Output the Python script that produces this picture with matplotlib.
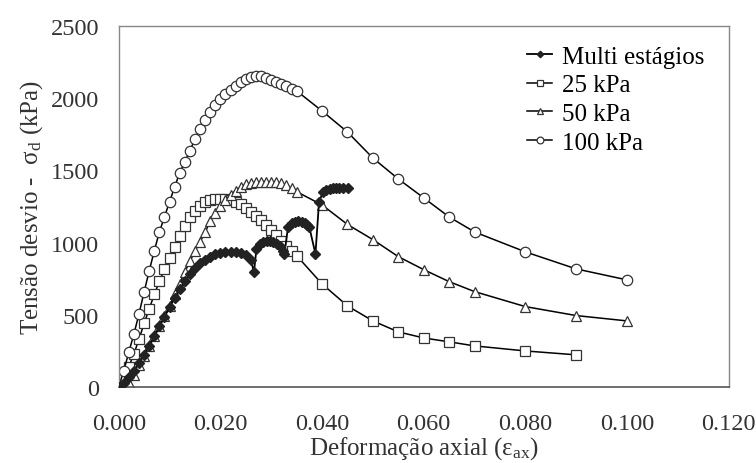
import matplotlib
matplotlib.use("Agg")
import matplotlib.pyplot as plt

plt.rcParams['font.family'] = ['Liberation Serif', 'DejaVu Serif']
plt.rcParams['mathtext.fontset'] = 'custom'
plt.rcParams['mathtext.rm'] = 'Liberation Serif'
plt.rcParams['mathtext.it'] = 'Liberation Serif'

# multi stage test (filled diamonds)
x_multi = [0.000, 0.001, 0.002, 0.003, 0.004, 0.005, 0.006, 0.007, 0.008, 0.009,
           0.010, 0.011, 0.012, 0.013, 0.014, 0.015, 0.016, 0.017, 0.018, 0.019,
           0.020, 0.021, 0.022, 0.023, 0.024, 0.025, 0.026, 0.0266,
           0.0271, 0.0277, 0.0284, 0.0291, 0.0298, 0.0304, 0.0311, 0.0317, 0.0323, 0.0326,
           0.0333, 0.0340, 0.0347, 0.0353, 0.0360, 0.0366, 0.0371, 0.0375, 0.0387,
           0.0394, 0.0402, 0.0408, 0.0415, 0.0422, 0.0428, 0.0434, 0.0441, 0.0451]
y_multi = [0, 25, 70, 108, 165, 222, 285, 350, 420, 485,
           550, 615, 675, 730, 780, 822, 856, 882, 902, 917,
           927, 933, 937, 935, 927, 915, 880, 794,
           956, 990, 1005, 1013, 1010, 1002, 990, 974, 944, 921,
           1106, 1136, 1145, 1147, 1143, 1136, 1122, 1106, 921,
           1279, 1353, 1364, 1371, 1375, 1377, 1378, 1378, 1376]

# 25 kPa (squares)
x_25 = [0.000, 0.001, 0.002, 0.003, 0.004, 0.005, 0.006, 0.007, 0.008, 0.009,
        0.010, 0.011, 0.012, 0.013, 0.014, 0.015, 0.016, 0.017, 0.018, 0.019,
        0.020, 0.021, 0.022, 0.023, 0.024, 0.025, 0.026, 0.027, 0.028, 0.029,
        0.030, 0.031, 0.032, 0.033, 0.034, 0.035,
        0.040, 0.045, 0.050, 0.055, 0.060, 0.065, 0.070, 0.080, 0.090]
y_25 = [0, 60, 140, 230, 330, 440, 540, 640, 730, 815,
        895, 970, 1045, 1115, 1175, 1220, 1255, 1278, 1293, 1300,
        1302, 1300, 1295, 1283, 1267, 1240, 1214, 1186, 1157, 1122,
        1087, 1053, 1013, 974, 944, 909,
        713, 561, 457, 381, 339, 312, 284, 249, 222]

# 50 kPa (triangles)
x_50 = [0.001, 0.002, 0.003, 0.004, 0.005, 0.006, 0.007, 0.008, 0.009,
        0.010, 0.011, 0.012, 0.013, 0.014, 0.015, 0.016, 0.017, 0.018, 0.019,
        0.020, 0.021, 0.022, 0.023, 0.024, 0.025, 0.026, 0.027, 0.028, 0.029,
        0.030, 0.031, 0.032, 0.033, 0.034, 0.035,
        0.040, 0.045, 0.050, 0.055, 0.060, 0.065, 0.070, 0.080, 0.090, 0.100]
y_50 = [0, 25, 85, 150, 215, 280, 350, 420, 490,
        560, 640, 715, 795, 870, 940, 1005, 1070, 1150, 1205,
        1255, 1295, 1330, 1360, 1385, 1402, 1412, 1418, 1422, 1422,
        1420, 1416, 1410, 1397, 1375, 1352,
        1260, 1125, 1020, 902, 812, 729, 660, 556, 494, 457]

# 100 kPa (circles)
x_100 = [0.000, 0.001, 0.002, 0.003, 0.004, 0.005, 0.006, 0.007, 0.008, 0.009,
         0.010, 0.011, 0.012, 0.013, 0.014, 0.015, 0.016, 0.017, 0.018, 0.019,
         0.020, 0.021, 0.022, 0.023, 0.024, 0.025, 0.026, 0.027, 0.028, 0.029,
         0.030, 0.031, 0.032, 0.033, 0.034, 0.035,
         0.040, 0.045, 0.050, 0.055, 0.060, 0.065, 0.070, 0.080, 0.090, 0.100]
y_100 = [0, 111, 242, 367, 506, 658, 803, 942, 1073, 1177,
         1281, 1385, 1482, 1558, 1634, 1717, 1787, 1849, 1904, 1953,
         1994, 2029, 2057, 2084, 2112, 2133, 2147, 2154, 2154, 2140,
         2126, 2112, 2098, 2084, 2064, 2050,
         1911, 1765, 1585, 1440, 1309, 1177, 1073, 935, 817, 741]

x_ticks = [0.0, 0.02, 0.04, 0.06, 0.08, 0.10, 0.12]
y_ticks = [0, 500, 1000, 1500, 2000, 2500]

fig = plt.figure(figsize=(7.56, 4.64), dpi=100)
ax = fig.add_axes([0.157, 0.164, 0.807, 0.778])

ax.plot(x_multi, y_multi, color='black', lw=1.3, marker='D', markersize=5,
        markerfacecolor='#222222', markeredgecolor='#222222', label='Multi estágios', zorder=5)
ax.plot(x_25, y_25, color='black', lw=1.1, marker='s', markersize=7.5,
        markerfacecolor='white', markeredgecolor='#333333', markeredgewidth=0.9, label='25 kPa')
ax.plot(x_50, y_50, color='black', lw=1.1, marker='^', markersize=7.5,
        markerfacecolor='white', markeredgecolor='#333333', markeredgewidth=0.9, label='50 kPa')
ax.plot(x_100, y_100, color='black', lw=1.1, marker='o', markersize=7.5,
        markerfacecolor='white', markeredgecolor='#333333', markeredgewidth=0.9, label='100 kPa')

ax.set_xlim(0, 0.12)
ax.set_ylim(0, 2500)
ax.set_xticks(x_ticks)
ax.set_xticklabels(['%.3f' % t for t in x_ticks])
ax.set_yticks(y_ticks)
ax.tick_params(axis='x', length=0, pad=19, labelsize=17.5, colors='#333333')
ax.tick_params(axis='y', length=0, pad=14, labelsize=17.5, colors='#333333')

for s in ['top', 'right', 'left']:
    ax.spines[s].set_color('#888888')
    ax.spines[s].set_linewidth(1.0)
ax.spines['bottom'].set_color('#555555')
ax.spines['bottom'].set_linewidth(1.2)

ax.set_xlabel(r'Deformação axial ($\mathrm{\varepsilon_{ax}}$)', fontsize=18, color='#333333', labelpad=0)
ax.set_ylabel(r'Tensão desvio -  $\mathrm{\sigma_d}$ (kPa)', fontsize=18, color='#333333', labelpad=4)

leg = ax.legend(loc='upper left', bbox_to_anchor=(0.67, 0.947), frameon=False, fontsize=18,
                handlelength=1.0, handletextpad=0.4, labelspacing=0.25, borderpad=0,
                borderaxespad=0, markerscale=0.65)

fig.savefig('out.png', dpi=100)
